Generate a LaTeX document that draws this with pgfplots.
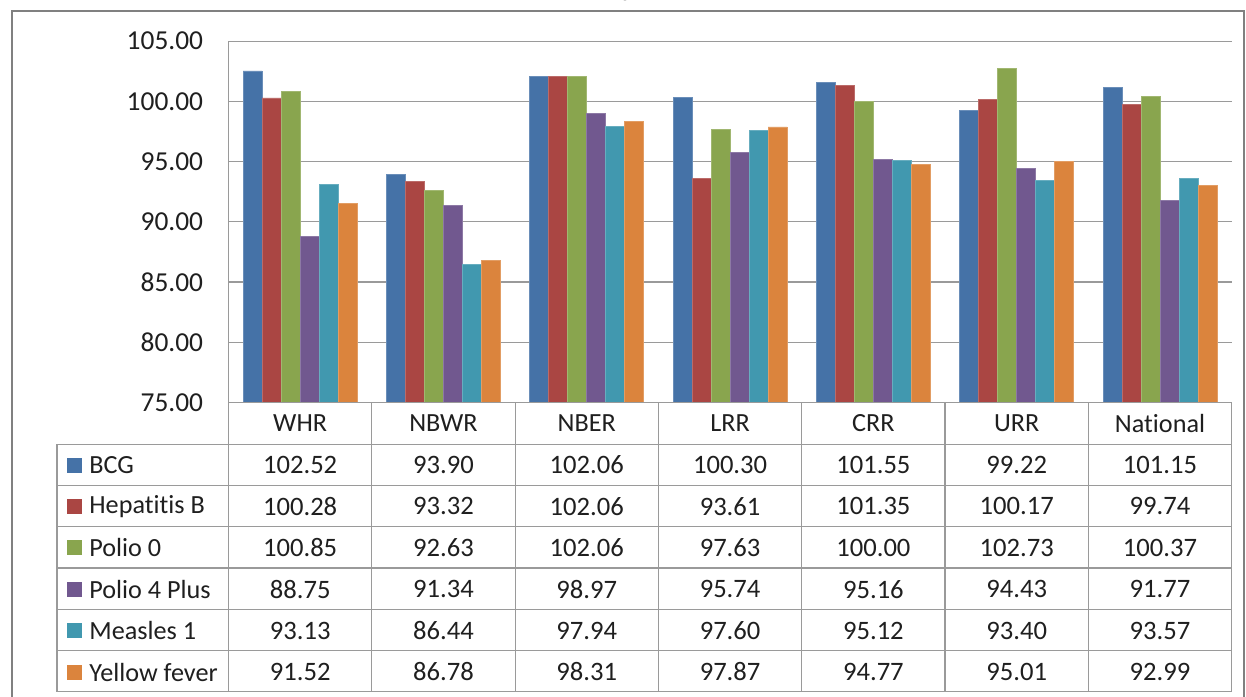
\documentclass[border=0pt]{standalone}
\usepackage{pgfplots}
\pgfplotsset{compat=1.18}
\usepackage{pgfplotstable}
\usepackage{fontspec}
\setmainfont[Ligatures=NoCommon]{Carlito}
\newfontfamily\titlefont{Liberation Serif}
\definecolor{cA}{HTML}{4572A7}
\definecolor{cB}{HTML}{AA4643}
\definecolor{cC}{HTML}{89A54E}
\definecolor{cD}{HTML}{71588F}
\definecolor{cE}{HTML}{4198AF}
\definecolor{cF}{HTML}{DB843D}
\definecolor{lineg}{HTML}{9A9A9A}
\pgfplotstableread{
x bcg hep pzero pfour mea yf
0 102.52 100.28 100.85 88.75 93.13 91.52
1 93.90 93.32 92.63 91.34 86.44 86.78
2 102.06 102.06 102.06 98.97 97.94 98.31
3 100.30 93.61 97.63 95.74 97.60 97.87
4 101.55 101.35 100.00 95.16 95.12 94.77
5 99.22 100.17 102.73 94.43 93.40 95.01
6 101.15 99.74 100.37 91.77 93.57 92.99
}\datatable
\begin{document}
\begin{tikzpicture}
\useasboundingbox (0,0) rectangle (623pt,-348pt);
\begin{axis}[at={(114.25pt,-201.15pt)}, anchor=south west, scale only axis,
  width=501.6pt, height=180.6pt,
  ybar=0pt, bar width=9.5pt,
  xmin=-0.5, xmax=6.5, ymin=75, ymax=105,
  ytick={75,80,...,105}, xtick={0,...,6},
  xticklabels={WHR,NBWR,NBER,LRR,CRR,URR,National},
  axis lines=left, axis line style={-, draw=lineg, line width=0.6pt},
  major tick length=0pt,
  ymajorgrids, grid style={lineg, line width=0.6pt},
  yticklabel={\pgfmathprintnumber[fixed,fixed zerofill,precision=2]{\tick}},
  /pgf/number format/assume math mode=true,
  yticklabel style={font=\fontsize{13.7}{16}\selectfont, anchor=east, inner sep=0pt, xshift=-12.5pt, text=black!88},
  xticklabel style={font=\fontsize{13.1}{15}\selectfont, anchor=center, inner sep=0pt, yshift=-10.5pt, text=black!88},
  clip=false,
]
\addplot[fill=cA, draw=cA!80!white] table[x=x, y=bcg] {\datatable};
\addplot[fill=cB, draw=cB!80!white] table[x=x, y=hep] {\datatable};
\addplot[fill=cC, draw=cC!80!white] table[x=x, y=pzero] {\datatable};
\addplot[fill=cD, draw=cD!80!white] table[x=x, y=pfour] {\datatable};
\addplot[fill=cE, draw=cE!80!white] table[x=x, y=mea] {\datatable};
\addplot[fill=cF, draw=cF!80!white] table[x=x, y=yf] {\datatable};
\end{axis}
\begin{scope}[x=0.5pt, y=-0.5pt]
  % outer frame
  \draw[gray, line width=1.2pt] (12,11) rectangle (1244,720);
  \node[font=\titlefont\bfseries\fontsize{12}{14}\selectfont, anchor=base] at (631,1) {2012};
  % table lines
  \draw[lineg, line width=0.6pt] (228.5,402.3) -- (1231.7,402.3);
  \foreach \yy in {444.3,485.7,526.7,568,609.3,650.7,691.7}
    \draw[lineg, line width=0.6pt] (57,\yy) -- (1231.7,\yy);
  \draw[lineg, line width=0.6pt] (57,444.3) -- (57,691.7);
  \foreach \k in {0,...,7}
    \draw[lineg, line width=0.6pt] ({228.5+143.31*\k},402.3) -- ({228.5+143.31*\k},691.7);
  % legend keys and names
  \foreach \c/\n/\r in {cA/BCG/0, cB/Hepatitis B/1, cC/Polio 0/2, cD/Polio 4 Plus/3, cE/Measles 1/4, cF/Yellow fever/5}{
    \pgfmathsetmacro{\yc}{465+41.4*\r}
    \fill[\c] (67,\yc-7.5) rectangle (82,\yc+7.5);
    \node[anchor=west, inner sep=0pt, font=\fontsize{13.1}{15}\selectfont, text=black!88] at (89,\yc) {\n};
  }
  % values
  \foreach \r/\vals in {0/{102.52,93.90,102.06,100.30,101.55,99.22,101.15},
                        1/{100.28,93.32,102.06,93.61,101.35,100.17,99.74},
                        2/{100.85,92.63,102.06,97.63,100.00,102.73,100.37},
                        3/{88.75,91.34,98.97,95.74,95.16,94.43,91.77},
                        4/{93.13,86.44,97.94,97.60,95.12,93.40,93.57},
                        5/{91.52,86.78,98.31,97.87,94.77,95.01,92.99}}{
    \foreach \v [count=\k from 0] in \vals {
      \node[inner sep=0pt, font=\fontsize{13.3}{15}\selectfont, text=black!88] at ({228.5+143.31*(\k+0.5)},{465+41.4*\r}) {\v};
    }
  }
\end{scope}
\end{tikzpicture}
\end{document}
